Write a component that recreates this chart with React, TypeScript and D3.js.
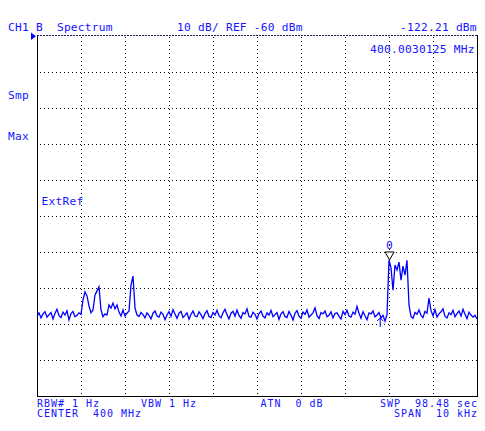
import React from "react";
import * as d3 from "d3";

// ---- Data ----
const refLevel = -60; // dBm (top of screen)
const dbPerDiv = 10;
const numDivs = 10;
const spanKHz = 10;

// Trace amplitude (dBm), evenly spaced sweep points across the span
const traceDbm: number[] = [
  -137.8,-136.9,-138.3,-137.2,-136.6,-138.1,-137.4,-136.8,-138.6,-137.0,-135.9,-137.7,-138.2,-136.7,-137.5,-136.3,-138.9,-137.1,-136.5,-138.0,-137.6,-136.9,-137.3,
  -133.3,-131.1,-132.2,-135.0,-136.9,-136.1,-131.9,-130.8,-129.7,-136.1,-138.0,-137.2,-137.5,-134.7,-135.6,-134.2,-135.8,-134.7,-136.7,-137.8,-136.1,-137.8,-137.0,-136.4,-129.2,-126.7,-135.5,-137.5,
  -137.9,-136.8,-137.4,-138.3,-136.9,-137.6,-138.6,-137.0,-136.4,-137.8,-138.1,-136.7,-137.3,-138.8,-137.5,-136.6,-137.9,-136.0,-137.2,-138.4,
  -137.0,-136.5,-138.2,-137.6,-136.9,-138.7,-137.3,-136.4,-137.8,-138.0,-136.6,-137.4,-138.5,-137.1,-136.3,-137.9,-138.2,-136.8,-137.5,-136.2,
  -137.7,-138.3,-136.9,-135.9,-137.4,-138.6,-137.0,-136.5,-137.8,-136.1,-137.6,-138.4,-136.8,-137.2,-135.8,-137.9,-138.1,-136.7,-137.3,-138.6,
  -137.1,-136.4,-137.8,-138.3,-136.9,-137.5,-136.2,-138.0,-137.4,-136.8,-138.7,-137.2,-136.6,-137.9,-138.2,-136.5,-137.6,-138.9,-137.0,-136.3,
  -137.8,-138.4,-136.7,-137.3,-136.1,-138.1,-137.5,-136.9,-135.5,-137.7,-138.5,-136.8,-137.2,-136.4,-138.0,-137.6,-136.6,-138.3,-137.1,-136.9,
  -137.9,-138.6,-136.5,-137.4,-136.2,-137.8,-138.1,-136.7,-137.3,-135.1,-137.0,-138.4,-136.6,-137.7,-138.8,-136.9,-137.2,-136.4,-138.0,-137.5,
  -136.8,-138.3,-137.6,-139.2,
  -137.4,
  -122.2,-124.4,-130.6,-123.6,-125.0,-122.8,-127.8,-123.9,-126.4,-122.3,-134.7,
  -137.9,-138.4,-136.8,-137.3,-136.1,-137.6,-138.2,-136.5,-137.0,-132.8,-136.3,-137.7,-136.0,-138.1,-137.2,-136.6,-135.8,-137.9,-138.3,-136.9,-137.4,-136.2,-138.0,-137.1,-136.4,-137.8,-135.9,-137.3,-138.5,-136.7,-137.5,-138.1,-137.6,-138.6,
];

const markerFreqOffsetKHz = 3.0125; // marker 0 at 400.0030125 MHz
const markerDbm = -122.21;
const deltaMarkerOffsetKHz = 2.8;

const headerLeft = "CH1 B  Spectrum";
const headerMid = "10 dB/ REF -60 dBm";
const headerRight = "-122.21 dBm";
const markerFreqLabel = "400.0030125 MHz";
const sideLabels = ["Smp", "Max"];
const extRefLabel = "ExtRef";
const footer1 = [
  { text: "RBW# 1 Hz", x: 37 },
  { text: "VBW 1 Hz", x: 141 },
  { text: "ATN  0 dB", x: 260.5 },
  { text: "SWP  98.48 sec", x: 380 },
];
const footer2 = [
  { text: "CENTER  400 MHz", x: 37 },
  { text: "SPAN  10 kHz", x: 394 },
];

// ---- Layout ----
const W = 485;
const H = 431;
const left = 37;
const right = 477;
const top = 36;
const bottom = 396;

const BLUE = "#0000ff";
const TXT = "#1414ff";
const FONT = "'DejaVu Sans Mono', 'Liberation Mono', monospace";

export default function App() {
  const x = d3.scaleLinear().domain([-spanKHz / 2, spanKHz / 2]).range([left, right]);
  const y = d3
    .scaleLinear()
    .domain([refLevel - dbPerDiv * numDivs, refLevel])
    .range([bottom, top]);

  const n = traceDbm.length;
  const freqs = d3.range(n).map((i) => -spanKHz / 2 + (spanKHz * i) / (n - 1));
  const line = d3
    .line<number>()
    .x((_, i) => x(freqs[i]))
    .y((d) => y(d))
    .curve(d3.curveLinear);

  const xTicks = d3.range(1, numDivs).map((i) => -spanKHz / 2 + (spanKHz * i) / numDivs);
  const yTicks = d3.range(1, numDivs).map((i) => refLevel - dbPerDiv * i);

  const mx = x(markerFreqOffsetKHz);
  const my = y(markerDbm);
  const dx = x(deltaMarkerOffsetKHz);
  const dy = y(-138.6);

  const textProps = {
    fontFamily: FONT,
    fontSize: 11.2,
    letterSpacing: 0.25,
    fill: TXT,
    style: { whiteSpace: "pre" as const },
  };
  const footProps = {
    ...textProps,
    fontSize: 10,
    letterSpacing: 0.98,
  };

  return (
    <svg
      width={W}
      height={H}
      style={{ position: "absolute", left: 0, top: 0, background: "#fff" }}
    >
      <rect x={0} y={0} width={W} height={H} fill="#fff" />
      {/* grid */}
      <g stroke="#000" strokeWidth={1} strokeDasharray="1,3" shapeRendering="crispEdges">
        {xTicks.map((t) => (
          <line key={"vx" + t} x1={Math.round(x(t)) + 0.5} x2={Math.round(x(t)) + 0.5} y1={top + 1} y2={bottom} />
        ))}
        {yTicks.map((t) => (
          <line key={"hy" + t} x1={left + 3} x2={right} y1={Math.round(y(t)) + 0.5} y2={Math.round(y(t)) + 0.5} />
        ))}
      </g>
      {/* frame */}
      <g shapeRendering="crispEdges" strokeWidth={1} fill="none">
        <line x1={left + 0.5} x2={left + 0.5} y1={top - 1} y2={bottom + 0.5} stroke="#000" />
        <line x1={right + 0.5} x2={right + 0.5} y1={top - 1} y2={bottom + 0.5} stroke="#000" />
        <line x1={left} x2={right + 1} y1={bottom + 0.5} y2={bottom + 0.5} stroke="#000" />
        <line x1={left} x2={right + 1} y1={top - 0.5} y2={top - 0.5} stroke="#1a1a5a" strokeDasharray="2,1" />
      </g>
      {/* reference level marker */}
      <path d={`M31,32.5 L31,40 L36,36.2 Z`} fill={BLUE} />
      {/* trace */}
      <path d={line(traceDbm) || ""} fill="none" stroke={BLUE} strokeWidth={1.3} />
      {/* delta / reference marker arrow */}
      <path
        d={`M${dx},${dy - 1} L${dx},${dy + 8} M${dx - 3},${dy + 2} L${dx},${dy - 1} L${dx + 3},${dy + 2}`}
        stroke={BLUE}
        fill="none"
        strokeWidth={1}
      />
      {/* marker 0 */}
      <path
        d={`M${mx - 4.5},${my - 8} L${mx + 4.5},${my - 8} L${mx},${my} Z`}
        fill="#fff"
        stroke="#000"
        strokeWidth={1}
      />
      <text x={mx} y={my - 11} textAnchor="middle" {...textProps}>
        0
      </text>
      {/* header */}
      <text x={8} y={30.5} {...textProps}>{headerLeft}</text>
      <text x={177} y={30.5} {...textProps}>{headerMid}</text>
      <text x={400} y={30.5} {...textProps}>{headerRight}</text>
      <text x={370} y={52.5} {...textProps}>{markerFreqLabel}</text>
      {/* side labels */}
      <text x={8} y={99} {...textProps}>{sideLabels[0]}</text>
      <text x={8} y={140} {...textProps}>{sideLabels[1]}</text>
      <text x={41.5} y={205} {...textProps}>{extRefLabel}</text>
      {/* footer */}
      {footer1.map((f) => (
        <text key={f.text} x={f.x} y={407.3} {...footProps}>{f.text}</text>
      ))}
      {footer2.map((f) => (
        <text key={f.text} x={f.x} y={417} {...footProps}>{f.text}</text>
      ))}
    </svg>
  );
}
